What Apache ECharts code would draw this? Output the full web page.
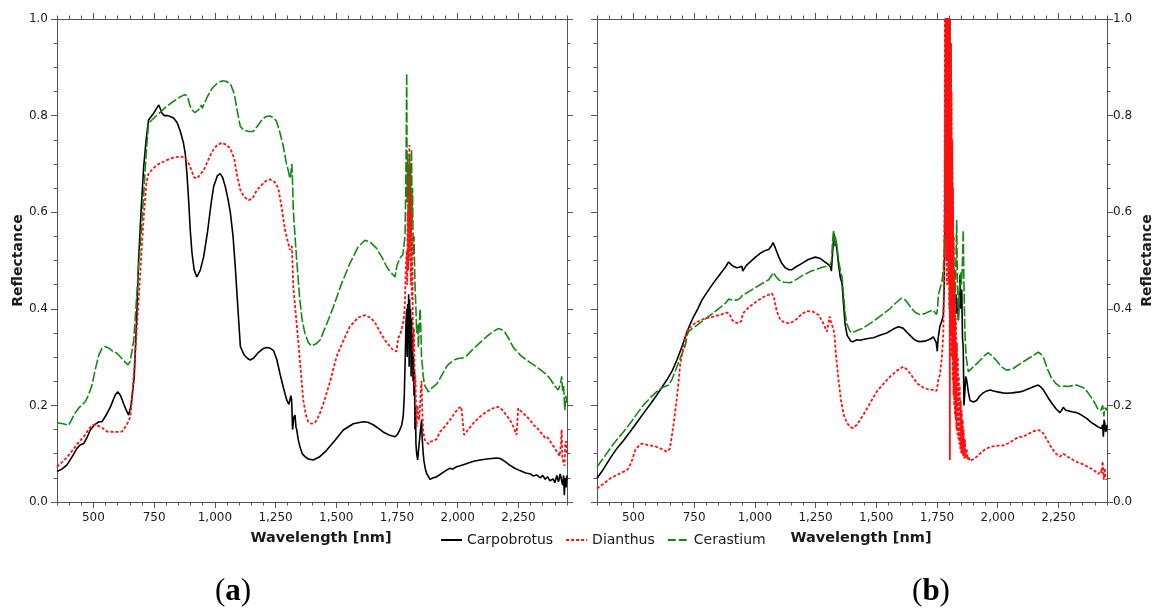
<!DOCTYPE html>
<html>
<head>
<meta charset="utf-8">
<title>Reflectance spectra</title>
<script src="https://cdn.jsdelivr.net/npm/echarts@6/dist/echarts.min.js"></script>
<style>
  html, body { margin: 0; padding: 0; background: #fff; }
  #chart { width: 1155px; height: 610px; }
</style>
</head>
<body>
<div id="chart"></div>
<script>
// Axis ranges and tick labels (wavelength in nm, reflectance 0..1)
const WAVE_MIN = 350;
const WAVE_MAX = 2450;
const WAVE_TICKS = [500, 750, 1000, 1250, 1500, 1750, 2000, 2250];
const SPECIES = ['Carpobrotus', 'Dianthus', 'Cerastium'];
const PANEL_TAGS = ['a', 'b'];

// Panel (a): [wavelength nm, reflectance]
const carpobrotusA = [
  [350,0.063],[370,0.068],[391,0.077],[410,0.092],[432,0.111],[445,0.118],[460,0.121],[475,0.135],[487,0.149],
  [505,0.160],[522,0.166],[535,0.166],[550,0.178],[570,0.197],[590,0.222],[601,0.228],[612,0.220],[624,0.204],
  [635,0.190],[645,0.180],[655,0.200],[668,0.259],[678,0.380],[686,0.501],[697,0.610],[707,0.694],[717,0.750],
  [727,0.791],[748,0.805],[760,0.815],[769,0.822],[775,0.815],[782,0.805],[792,0.800],[803,0.800],[816,0.798],
  [830,0.795],[845,0.785],[858,0.767],[870,0.745],[878,0.722],[885,0.680],[892,0.625],[899,0.560],[906,0.515],
  [915,0.480],[926,0.466],[940,0.480],[954,0.508],[970,0.560],[985,0.620],[995,0.653],[1010,0.675],[1022,0.680],
  [1032,0.672],[1043,0.653],[1055,0.625],[1064,0.598],[1075,0.550],[1084,0.487],[1095,0.400],[1105,0.322],
  [1120,0.305],[1135,0.297],[1146,0.294],[1160,0.298],[1180,0.310],[1200,0.318],[1213,0.320],[1225,0.319],
  [1241,0.314],[1255,0.295],[1268,0.266],[1282,0.237],[1296,0.211],[1305,0.202],[1309,0.200],[1313,0.220],
  [1316,0.213],[1320,0.150],[1325,0.175],[1330,0.180],[1334,0.155],[1337,0.150],[1343,0.130],[1350,0.115],
  [1360,0.100],[1371,0.094],[1385,0.089],[1405,0.087],[1430,0.093],[1460,0.107],[1495,0.128],[1529,0.149],
  [1570,0.162],[1611,0.166],[1630,0.165],[1652,0.160],[1675,0.152],[1693,0.145],[1720,0.138],[1742,0.135],
  [1752,0.140],[1762,0.150],[1770,0.160],[1776,0.180],[1780,0.220],[1784,0.300],[1787,0.370],[1790,0.400],
  [1792,0.300],[1794,0.410],[1796,0.330],[1798,0.430],[1800,0.280],[1802,0.420],[1804,0.320],[1806,0.400],
  [1808,0.260],[1810,0.380],[1812,0.300],[1814,0.350],[1816,0.250],[1818,0.300],[1820,0.220],[1822,0.270],
  [1824,0.150],[1826,0.200],[1828,0.120],[1831,0.100],[1835,0.087],[1838,0.087],[1841,0.120],[1844,0.135],
  [1848,0.155],[1851,0.170],[1854,0.130],[1858,0.100],[1861,0.085],[1866,0.070],[1872,0.059],[1879,0.053],
  [1886,0.047],[1893,0.050],[1900,0.050],[1913,0.052],[1930,0.058],[1945,0.063],[1954,0.066],[1962,0.068],
  [1968,0.070],[1980,0.068],[1995,0.073],[2010,0.075],[2023,0.077],[2050,0.082],[2070,0.085],[2092,0.087],
  [2120,0.089],[2140,0.090],[2160,0.091],[2175,0.090],[2194,0.084],[2215,0.076],[2235,0.070],[2256,0.065],
  [2280,0.060],[2300,0.058],[2310,0.054],[2325,0.056],[2340,0.050],[2350,0.055],[2360,0.047],[2370,0.052],
  [2380,0.044],[2393,0.048],[2400,0.040],[2408,0.055],[2415,0.042],[2422,0.058],[2428,0.060],[2432,0.035],
  [2436,0.055],[2439,0.014],[2442,0.050],[2446,0.030],[2450,0.055]
];
const dianthusA = [
  [350,0.073],[370,0.082],[390,0.092],[405,0.101],[430,0.118],[460,0.135],[480,0.150],[494,0.159],[510,0.160],
  [528,0.156],[540,0.152],[556,0.146],[580,0.145],[600,0.145],[618,0.146],[635,0.158],[645,0.168],[652,0.177],
  [660,0.220],[670,0.290],[679,0.363],[690,0.450],[700,0.536],[710,0.610],[718,0.660],[727,0.680],[745,0.690],
  [762,0.698],[790,0.705],[817,0.711],[840,0.714],[865,0.715],[880,0.710],[892,0.701],[905,0.685],[915,0.672],
  [926,0.670],[940,0.678],[954,0.687],[970,0.705],[988,0.725],[1008,0.738],[1029,0.744],[1045,0.740],[1064,0.732],
  [1080,0.710],[1092,0.675],[1105,0.646],[1120,0.632],[1139,0.625],[1155,0.628],[1173,0.646],[1190,0.655],
  [1210,0.665],[1227,0.668],[1245,0.663],[1261,0.650],[1275,0.610],[1289,0.563],[1300,0.540],[1309,0.522],
  [1314,0.520],[1317,0.530],[1320,0.490],[1323,0.446],[1333,0.390],[1344,0.329],[1354,0.270],[1364,0.211],
  [1375,0.180],[1385,0.166],[1398,0.162],[1412,0.164],[1430,0.180],[1447,0.204],[1475,0.250],[1501,0.301],
  [1530,0.335],[1556,0.363],[1590,0.382],[1618,0.387],[1640,0.382],[1659,0.372],[1675,0.357],[1687,0.346],
  [1705,0.332],[1721,0.322],[1735,0.314],[1748,0.312],[1755,0.340],[1762,0.345],[1770,0.360],[1776,0.372],
  [1780,0.390],[1783,0.420],[1786,0.480],[1790,0.520],[1792,0.450],[1794,0.600],[1796,0.480],[1798,0.680],
  [1800,0.500],[1801,0.739],[1803,0.520],[1805,0.640],[1807,0.450],[1809,0.600],[1811,0.420],[1813,0.550],
  [1815,0.380],[1817,0.310],[1820,0.360],[1823,0.240],[1826,0.260],[1829,0.180],[1831,0.156],[1834,0.200],
  [1838,0.198],[1841,0.170],[1844,0.190],[1848,0.230],[1851,0.251],[1854,0.190],[1858,0.145],[1862,0.135],
  [1865,0.128],[1872,0.126],[1880,0.120],[1886,0.125],[1892,0.121],[1900,0.126],[1913,0.130],[1927,0.145],
  [1945,0.155],[1968,0.170],[1985,0.182],[2002,0.194],[2015,0.197],[2023,0.198],[2026,0.139],[2040,0.148],
  [2064,0.163],[2090,0.176],[2119,0.187],[2145,0.194],[2167,0.197],[2185,0.190],[2200,0.180],[2215,0.170],
  [2230,0.155],[2242,0.139],[2245,0.160],[2249,0.194],[2265,0.186],[2284,0.177],[2300,0.168],[2315,0.158],
  [2325,0.155],[2339,0.145],[2350,0.140],[2360,0.132],[2370,0.134],[2380,0.126],[2390,0.118],[2400,0.112],
  [2407,0.105],[2414,0.100],[2420,0.095],[2425,0.120],[2428,0.150],[2431,0.090],[2435,0.088],[2440,0.075],
  [2443,0.120],[2446,0.126],[2450,0.100]
];
const cerastiumA = [
  [350,0.164],[375,0.162],[398,0.159],[410,0.170],[419,0.180],[440,0.195],[467,0.208],[480,0.222],[494,0.242],
  [508,0.275],[522,0.304],[535,0.318],[549,0.322],[565,0.318],[580,0.312],[597,0.308],[615,0.298],[630,0.290],
  [642,0.284],[650,0.290],[658,0.310],[666,0.335],[676,0.410],[686,0.487],[697,0.560],[707,0.639],[717,0.720],
  [727,0.784],[745,0.793],[762,0.801],[790,0.814],[817,0.825],[848,0.836],[878,0.844],[890,0.835],[898,0.820],
  [906,0.812],[918,0.806],[926,0.807],[940,0.815],[944,0.822],[948,0.815],[954,0.822],[970,0.840],[988,0.856],
  [1008,0.866],[1029,0.872],[1045,0.871],[1064,0.866],[1080,0.845],[1092,0.810],[1105,0.777],[1120,0.770],
  [1139,0.767],[1158,0.767],[1175,0.778],[1195,0.792],[1210,0.798],[1227,0.799],[1240,0.796],[1254,0.788],
  [1268,0.765],[1282,0.736],[1295,0.700],[1302,0.687],[1309,0.670],[1313,0.680],[1317,0.700],[1320,0.660],
  [1323,0.605],[1330,0.550],[1337,0.501],[1350,0.418],[1360,0.375],[1371,0.349],[1385,0.330],[1398,0.323],
  [1415,0.327],[1433,0.335],[1460,0.368],[1488,0.404],[1520,0.450],[1556,0.494],[1590,0.528],[1618,0.542],
  [1640,0.538],[1666,0.525],[1690,0.505],[1707,0.487],[1725,0.475],[1742,0.466],[1746,0.466],[1750,0.490],
  [1755,0.494],[1762,0.505],[1769,0.508],[1774,0.512],[1779,0.515],[1783,0.550],[1786,0.650],[1788,0.750],
  [1790,0.887],[1792,0.620],[1794,0.720],[1796,0.580],[1798,0.700],[1800,0.560],[1802,0.720],[1804,0.600],
  [1806,0.700],[1808,0.550],[1810,0.730],[1812,0.580],[1814,0.650],[1817,0.510],[1820,0.550],[1824,0.450],
  [1828,0.400],[1831,0.350],[1835,0.370],[1838,0.320],[1842,0.370],[1845,0.400],[1848,0.360],[1851,0.300],
  [1855,0.280],[1858,0.260],[1861,0.250],[1865,0.240],[1872,0.235],[1879,0.228],[1886,0.230],[1893,0.236],
  [1900,0.238],[1915,0.245],[1934,0.262],[1954,0.280],[1962,0.285],[1968,0.283],[1975,0.290],[1990,0.295],
  [2002,0.297],[2020,0.298],[2037,0.303],[2060,0.315],[2092,0.330],[2120,0.343],[2145,0.353],[2167,0.359],
  [2180,0.357],[2194,0.352],[2210,0.338],[2229,0.320],[2260,0.303],[2297,0.289],[2330,0.278],[2350,0.270],
  [2366,0.264],[2380,0.255],[2390,0.248],[2400,0.240],[2407,0.237],[2414,0.232],[2420,0.240],[2425,0.250],
  [2428,0.260],[2432,0.230],[2436,0.240],[2441,0.190],[2445,0.220],[2450,0.205]
];

// Panel (b): [wavelength nm, reflectance]
const carpobrotusB = [
  [350,0.049],[370,0.063],[391,0.080],[410,0.095],[432,0.111],[460,0.128],[487,0.146],[515,0.165],[542,0.184],
  [570,0.203],[597,0.222],[618,0.238],[638,0.253],[660,0.272],[679,0.294],[700,0.322],[721,0.353],[735,0.370],
  [748,0.384],[765,0.400],[782,0.418],[800,0.432],[823,0.449],[845,0.464],[865,0.477],[880,0.487],[892,0.497],
  [896,0.500],[900,0.493],[906,0.490],[915,0.487],[926,0.485],[935,0.486],[947,0.488],[950,0.478],[954,0.480],
  [965,0.490],[981,0.497],[1000,0.506],[1022,0.515],[1040,0.520],[1057,0.523],[1068,0.530],[1075,0.537],
  [1085,0.525],[1098,0.508],[1110,0.495],[1125,0.485],[1140,0.481],[1153,0.481],[1170,0.487],[1194,0.494],
  [1220,0.502],[1249,0.507],[1270,0.504],[1285,0.498],[1297,0.494],[1305,0.490],[1311,0.487],[1315,0.478],
  [1318,0.500],[1322,0.530],[1327,0.556],[1331,0.530],[1334,0.540],[1338,0.522],[1345,0.490],[1352,0.465],
  [1359,0.453],[1365,0.410],[1371,0.370],[1380,0.345],[1395,0.333],[1405,0.332],[1420,0.336],[1433,0.335],
  [1460,0.338],[1488,0.340],[1515,0.345],[1543,0.350],[1570,0.358],[1591,0.363],[1610,0.360],[1625,0.352],
  [1639,0.345],[1655,0.337],[1668,0.333],[1680,0.332],[1700,0.333],[1721,0.337],[1735,0.342],[1742,0.345],
  [1747,0.330],[1751,0.312],[1755,0.340],[1762,0.364],[1770,0.375],[1776,0.387],[1780,0.450],[1783,0.600],
  [1785,0.850],[1787,1.100],[1790,0.900],[1792,1.100],[1794,0.800],[1796,1.050],[1798,0.750],[1800,1.020],
  [1802,0.700],[1804,0.850],[1806,0.600],[1808,0.750],[1810,0.550],[1813,0.620],[1816,0.480],[1820,0.450],
  [1824,0.410],[1828,0.430],[1831,0.390],[1835,0.420],[1838,0.376],[1842,0.430],[1845,0.470],[1848,0.400],
  [1852,0.440],[1855,0.340],[1858,0.320],[1861,0.200],[1865,0.230],[1868,0.260],[1872,0.253],[1880,0.225],
  [1886,0.210],[1892,0.208],[1900,0.207],[1913,0.210],[1927,0.220],[1940,0.226],[1955,0.230],[1970,0.232],
  [1982,0.230],[2000,0.228],[2020,0.226],[2037,0.225],[2060,0.226],[2091,0.228],[2105,0.230],[2130,0.235],
  [2150,0.239],[2167,0.242],[2178,0.238],[2188,0.232],[2205,0.218],[2222,0.205],[2240,0.193],[2256,0.185],
  [2263,0.190],[2270,0.196],[2280,0.190],[2290,0.189],[2305,0.187],[2325,0.185],[2345,0.180],[2366,0.173],
  [2385,0.165],[2400,0.160],[2407,0.159],[2415,0.155],[2420,0.158],[2428,0.152],[2432,0.160],[2435,0.135],
  [2438,0.170],[2441,0.163],[2444,0.145],[2448,0.150],[2450,0.160]
];
const dianthusB = [
  [350,0.028],[375,0.037],[405,0.049],[440,0.058],[474,0.066],[490,0.080],[508,0.108],[520,0.115],[535,0.121],
  [560,0.118],[590,0.115],[615,0.110],[638,0.104],[650,0.110],[666,0.163],[680,0.220],[693,0.287],[705,0.320],
  [714,0.342],[720,0.350],[723,0.356],[740,0.365],[762,0.373],[795,0.380],[830,0.384],[860,0.388],[885,0.392],
  [895,0.390],[906,0.377],[920,0.372],[933,0.370],[945,0.375],[950,0.390],[954,0.394],[975,0.403],[995,0.411],
  [1030,0.423],[1060,0.430],[1070,0.432],[1078,0.425],[1090,0.395],[1105,0.377],[1125,0.371],[1146,0.370],
  [1170,0.378],[1195,0.390],[1215,0.395],[1240,0.394],[1263,0.387],[1280,0.372],[1292,0.358],[1297,0.353],
  [1303,0.370],[1308,0.384],[1312,0.375],[1317,0.377],[1322,0.360],[1327,0.350],[1335,0.300],[1345,0.250],
  [1355,0.210],[1366,0.180],[1380,0.163],[1395,0.155],[1405,0.153],[1420,0.160],[1446,0.180],[1475,0.205],
  [1501,0.228],[1530,0.245],[1556,0.259],[1585,0.272],[1611,0.280],[1630,0.273],[1652,0.257],[1670,0.245],
  [1693,0.237],[1715,0.233],[1735,0.232],[1748,0.230],[1752,0.240],[1756,0.255],[1762,0.263],[1770,0.300],
  [1776,0.349],[1780,0.500],[1782,0.800],[1783,1.100],[1785,0.550],[1786,1.100],[1788,0.500],[1789,1.100],
  [1791,0.450],[1792,1.100],[1794,0.500],[1795,1.100],[1797,0.450],[1798,1.100],[1800,0.400],[1801,1.050],
  [1803,0.087],[1804,1.000],[1806,0.350],[1807,0.950],[1809,0.300],[1810,0.850],[1812,0.300],[1813,0.750],
  [1815,0.250],[1816,0.650],[1818,0.220],[1819,0.550],[1821,0.200],[1822,0.480],[1824,0.180],[1825,0.420],
  [1827,0.170],[1828,0.380],[1830,0.150],[1832,0.330],[1834,0.140],[1836,0.300],[1838,0.130],[1840,0.260],
  [1842,0.120],[1844,0.240],[1846,0.110],[1848,0.210],[1850,0.100],[1852,0.190],[1854,0.100],[1856,0.170],
  [1858,0.095],[1860,0.150],[1862,0.090],[1865,0.130],[1868,0.090],[1872,0.110],[1876,0.088],[1880,0.095],
  [1885,0.085],[1892,0.083],[1905,0.090],[1927,0.100],[1945,0.108],[1968,0.114],[1990,0.116],[2023,0.117],
  [2050,0.123],[2070,0.130],[2091,0.135],[2105,0.135],[2130,0.142],[2150,0.147],[2167,0.149],[2178,0.147],
  [2188,0.142],[2205,0.127],[2222,0.112],[2240,0.100],[2256,0.094],[2263,0.098],[2270,0.100],[2290,0.093],
  [2311,0.087],[2330,0.082],[2352,0.078],[2370,0.073],[2393,0.067],[2405,0.062],[2414,0.058],[2421,0.056],
  [2425,0.065],[2428,0.060],[2432,0.084],[2435,0.060],[2437,0.046],[2441,0.070],[2444,0.050],[2448,0.046],
  [2450,0.050]
];
const cerastiumB = [
  [350,0.073],[385,0.097],[419,0.121],[450,0.140],[487,0.163],[515,0.183],[542,0.201],[570,0.216],[597,0.229],
  [620,0.237],[645,0.242],[660,0.255],[679,0.280],[697,0.303],[714,0.325],[721,0.345],[727,0.353],[745,0.360],
  [762,0.366],[790,0.377],[817,0.387],[850,0.400],[878,0.411],[885,0.415],[892,0.420],[900,0.419],[910,0.418],
  [926,0.418],[940,0.422],[947,0.427],[954,0.428],[980,0.437],[1009,0.446],[1035,0.454],[1057,0.460],[1068,0.468],
  [1075,0.475],[1085,0.468],[1098,0.460],[1120,0.455],[1146,0.454],[1175,0.462],[1200,0.470],[1228,0.477],
  [1260,0.483],[1285,0.487],[1297,0.488],[1305,0.490],[1311,0.492],[1316,0.500],[1320,0.540],[1324,0.563],
  [1328,0.530],[1331,0.550],[1338,0.530],[1345,0.500],[1352,0.480],[1359,0.466],[1365,0.430],[1372,0.390],
  [1378,0.370],[1390,0.355],[1400,0.350],[1412,0.353],[1425,0.356],[1446,0.360],[1475,0.370],[1501,0.379],
  [1530,0.390],[1556,0.400],[1580,0.412],[1604,0.422],[1620,0.418],[1635,0.408],[1645,0.401],[1660,0.393],
  [1680,0.388],[1700,0.390],[1720,0.395],[1735,0.397],[1742,0.395],[1748,0.388],[1752,0.400],[1756,0.430],
  [1762,0.432],[1770,0.455],[1776,0.480],[1780,0.520],[1783,0.650],[1786,0.900],[1788,1.100],[1790,0.800],
  [1792,1.100],[1794,0.850],[1796,1.080],[1798,0.700],[1800,1.050],[1802,0.750],[1804,1.000],[1806,0.650],
  [1808,0.950],[1810,0.600],[1813,0.700],[1817,0.557],[1820,0.480],[1824,0.420],[1828,0.500],[1831,0.584],
  [1834,0.450],[1838,0.377],[1842,0.430],[1847,0.475],[1851,0.450],[1855,0.500],[1858,0.563],[1861,0.450],
  [1865,0.350],[1870,0.300],[1879,0.270],[1890,0.275],[1899,0.280],[1915,0.287],[1927,0.293],[1945,0.303],
  [1961,0.309],[1975,0.303],[1995,0.293],[2015,0.280],[2037,0.273],[2060,0.275],[2091,0.286],[2120,0.295],
  [2145,0.303],[2167,0.310],[2178,0.306],[2188,0.300],[2205,0.275],[2222,0.256],[2240,0.245],[2256,0.239],
  [2275,0.240],[2290,0.239],[2310,0.241],[2325,0.242],[2345,0.238],[2359,0.235],[2372,0.226],[2387,0.215],
  [2400,0.205],[2407,0.198],[2414,0.191],[2420,0.188],[2425,0.190],[2432,0.200],[2435,0.190],[2437,0.177],
  [2441,0.195],[2444,0.198],[2448,0.190],[2450,0.195]
];

const FONT = 'DejaVu Sans';
const TEXT = '#1a1a1a';
const FRAME = '#555';

// Line styles per species
const STYLES = {
  Carpobrotus: { color: '#000000', width: 1.6, type: 'solid' },
  Dianthus:    { color: '#ff1010', width: 1.8, type: [3, 2] },
  Cerastium:   { color: '#128a12', width: 1.6, type: [10, 2.5] }
};

const GRIDS = [
  { left: 57, top: 19, width: 510, height: 483 },
  { left: 597, top: 19, width: 510, height: 483 }
];

const withComma = v => Number(v).toLocaleString('en-US');

// Four x axes per panel: labelled bottom, framed top, and two minor-tick rows
function xAxesFor(g) {
  const base = {
    type: 'value', gridIndex: g, min: WAVE_MIN, max: WAVE_MAX,
    splitLine: { show: false }
  };
  const line = { show: true, onZero: false, lineStyle: { color: FRAME, width: 1 } };
  return [
    Object.assign({}, base, {
      position: 'bottom',
      axisLine: line,
      axisTick: { show: true, customValues: WAVE_TICKS, length: 6, lineStyle: { color: FRAME } },
      axisLabel: {
        show: true, customValues: WAVE_TICKS, formatter: withComma, margin: 10,
        fontFamily: FONT, fontSize: 12, color: TEXT
      },
      name: 'Wavelength [nm]', nameLocation: 'middle', nameGap: 29,
      nameTextStyle: { fontFamily: FONT, fontSize: 14.5, fontWeight: 'bold', color: TEXT, padding: [0, 0, 0, 18] }
    }),
    Object.assign({}, base, {
      position: 'top',
      axisLine: line,
      axisTick: { show: true, customValues: WAVE_TICKS, length: 6, lineStyle: { color: FRAME } },
      axisLabel: { show: false }
    }),
    Object.assign({}, base, {
      position: 'bottom', interval: 50,
      axisLine: { show: false, onZero: false },
      axisTick: { show: true, length: 3.5, lineStyle: { color: FRAME } },
      axisLabel: { show: false }
    }),
    Object.assign({}, base, {
      position: 'top', interval: 50,
      axisLine: { show: false, onZero: false },
      axisTick: { show: true, length: 3.5, lineStyle: { color: FRAME } },
      axisLabel: { show: false }
    })
  ];
}

// Left and right reflectance axes per panel; labels on the outer side only
function yAxesFor(g, labelSide) {
  const make = side => {
    const labelled = side === labelSide;
    return {
      type: 'value', gridIndex: g, position: side, min: 0, max: 1, interval: 0.2,
      splitLine: { show: false },
      axisLine: { show: true, onZero: false, lineStyle: { color: FRAME, width: 1 } },
      axisTick: { show: true, length: 6, lineStyle: { color: FRAME } },
      minorTick: { show: true, splitNumber: 4, length: 3.5, lineStyle: { color: FRAME } },
      axisLabel: {
        show: labelled, formatter: v => v.toFixed(1), margin: side === 'left' ? 9 : 6,
        fontFamily: FONT, fontSize: 12, color: TEXT
      },
      name: labelled ? 'Reflectance' : '',
      nameLocation: 'middle', nameRotate: 90, nameGap: side === 'left' ? 31 : 33,
      nameTextStyle: { fontFamily: FONT, fontSize: 14, fontWeight: 'bold', color: TEXT }
    };
  };
  return [make('left'), make('right')];
}

const PANELS = [
  { Carpobrotus: carpobrotusA, Dianthus: dianthusA, Cerastium: cerastiumA },
  { Carpobrotus: carpobrotusB, Dianthus: dianthusB, Cerastium: cerastiumB }
];
const DRAW_ORDER = ['Carpobrotus', 'Cerastium', 'Dianthus'];

const series = [];
PANELS.forEach((panel, g) => {
  DRAW_ORDER.forEach(name => {
    const st = STYLES[name];
    series.push({
      type: 'line', name, data: panel[name],
      xAxisIndex: g * 4, yAxisIndex: g * 2,
      symbol: 'none', showSymbol: false, clip: true,
      color: st.color,
      lineStyle: { color: st.color, width: st.width, type: st.type },
      emphasis: { disabled: true }
    });
  });
});

const chart = echarts.init(document.getElementById('chart'), null, { renderer: 'canvas' });
chart.setOption({
  backgroundColor: '#ffffff',
  animation: false,
  grid: GRIDS,
  xAxis: [].concat(xAxesFor(0), xAxesFor(1)),
  yAxis: [].concat(yAxesFor(0, 'left'), yAxesFor(1, 'right')),
  legend: {
    left: 440, top: 533, padding: 0, itemWidth: 21, itemHeight: 10, itemGap: 12,
    selectedMode: false,
    itemStyle: { opacity: 0 },
    textStyle: { fontFamily: FONT, fontSize: 14, color: TEXT },
    data: [
      { name: SPECIES[0] },
      { name: SPECIES[1] },
      { name: SPECIES[2], lineStyle: { type: [8, 3] } }
    ]
  },
  graphic: PANEL_TAGS.map((tag, i) => ({
    type: 'text',
    x: i === 0 ? 233 : 931,
    y: 592,
    style: {
      text: '{p|(}{b|' + tag + '}{p|)}',
      align: 'center', verticalAlign: 'middle',
      rich: {
        p: { fontFamily: 'Liberation Serif', fontSize: 31, color: '#111' },
        b: { fontFamily: 'Liberation Serif', fontSize: 31, fontWeight: 'bold', color: '#111' }
      }
    }
  })),
  series
});
</script>
</body>
</html>
